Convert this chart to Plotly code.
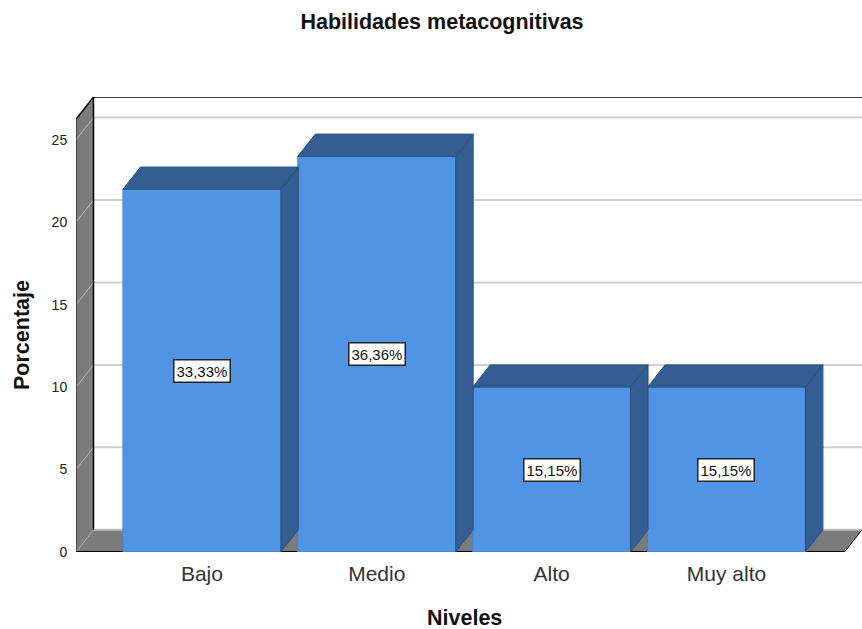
import plotly.graph_objects as go

categories = ["Bajo", "Medio", "Alto", "Muy alto"]
values = [22, 24, 10, 10]
pct_labels = ["33,33%", "36,36%", "15,15%", "15,15%"]
y_ticks = [0, 5, 10, 15, 20, 25]

BAR_W = 0.903
DX = 0.1      # depth offset in category units
DY = 1.35     # depth offset in value units
X0, X1 = -0.72, 3.775
Y1 = 27.6
FRONT = "#5294e4"
DARK = "#345e92"
EDGE = "#2b5181"
WALL = "#7b7b7b"
FONT = "Liberation Sans, Arial, sans-serif"

fig = go.Figure()

fig.add_trace(go.Bar(
    x=list(range(len(values))), y=values, width=BAR_W,
    marker=dict(color=FRONT, line=dict(color="#4a82c4", width=1)),
    hoverinfo="skip", showlegend=False,
))

for i, v in enumerate(values):
    l, r = i - BAR_W / 2, i + BAR_W / 2
    fig.add_trace(go.Scatter(
        x=[l, l + DX, r + DX, r, l], y=[v, v + DY, v + DY, v, v],
        mode="lines", fill="toself", fillcolor=DARK,
        line=dict(color=EDGE, width=1), hoverinfo="skip", showlegend=False))
    fig.add_trace(go.Scatter(
        x=[r, r + DX, r + DX, r, r], y=[0, DY, v + DY, v, 0],
        mode="lines", fill="toself", fillcolor=DARK,
        line=dict(color=EDGE, width=1), hoverinfo="skip", showlegend=False))

shapes = []
def poly(xs, ys, fill=None, color=None, width=1):
    path = "M" + " L".join(f"{a},{b}" for a, b in zip(xs, ys)) + (" Z" if fill else "")
    shapes.append(dict(type="path", path=path, xref="x", yref="y", layer="below",
                       fillcolor=fill if fill else "rgba(0,0,0,0)",
                       line=dict(color=color if color else "rgba(0,0,0,0)", width=width)))

BX = X0 + DX
FX = X1 - DX
# floor and left wall
poly([X0, BX, X1, FX], [0, DY, DY, 0], fill=WALL)
poly([X0, BX, BX, X0], [0, DY, Y1, Y1 - DY], fill=WALL)
# grid lines
for t in y_ticks[1:]:
    poly([X0, BX], [t, t + DY], color="#bdbdbd", width=1)
    poly([BX, X1], [t + DY, t + DY], color="#d0d0d0", width=2)
poly([X0, BX], [0, DY], color="#a8a8a8", width=1)
poly([BX, X1], [DY, DY], color="#bdbdbd", width=2)
# frame
poly([X0, FX], [0, 0], color="#000000", width=2)
poly([FX, X1], [0, DY], color="#000000", width=1)
poly([X0, X0], [0, Y1 - DY], color="#303030", width=1.5)
poly([X0, BX, X1], [Y1 - DY, Y1, Y1], color="#000000", width=1.5)
poly([BX, BX], [DY, Y1], color="#000000", width=1.5)

annotations = []
for i, (v, lab) in enumerate(zip(values, pct_labels)):
    annotations.append(dict(
        x=i, y=v / 2, xref="x", yref="y", text=lab, showarrow=False,
        font=dict(family=FONT, size=15, color="#111111"),
        bgcolor="#ffffff", bordercolor="#222222", borderwidth=1.5, borderpad=2))
annotations.append(dict(text="<b>Niveles</b>", xref="paper", yref="paper", x=(464 - 76) / 786,
                        y=-(618 - 552) / 455, showarrow=False, xanchor="center", yanchor="middle",
                        font=dict(family=FONT, size=21.5, color="#111111")))
annotations.append(dict(text="<b>Porcentaje</b>", xref="paper", yref="paper", x=-(76 - 22) / 786,
                        y=(552 - 335) / 455, showarrow=False, textangle=-90,
                        xanchor="center", yanchor="middle",
                        font=dict(family=FONT, size=21.5, color="#111111")))

fig.update_layout(
    width=862, height=629, margin=dict(l=76, r=0, t=97, b=77),
    paper_bgcolor="#ffffff", plot_bgcolor="#ffffff",
    title=dict(text="<b>Habilidades metacognitivas</b>", xref="paper", yref="container",
               x=(442 - 76) / 786, xanchor="center", y=1 - 21 / 629, yanchor="middle",
               font=dict(family=FONT, size=21.5, color="#111111")),
    showlegend=False, shapes=shapes, annotations=annotations,
    xaxis=dict(range=[X0, X1], tickmode="array", tickvals=list(range(len(categories))),
               ticktext=categories, showgrid=False, zeroline=False, showline=False,
               ticks="outside", ticklen=3, tickcolor="rgba(0,0,0,0)",
               tickfont=dict(family=FONT, size=21, color="#333333")),
    yaxis=dict(range=[0, Y1], tickmode="array", tickvals=y_ticks, showgrid=False,
               zeroline=False, showline=False, ticks="outside", ticklen=5,
               tickcolor="rgba(0,0,0,0)",
               tickfont=dict(family=FONT, size=14, color="#222222")),
)

fig.write_html("out.html", config={"displayModeBar": False},
               post_script="document.body.style.margin='0';")
